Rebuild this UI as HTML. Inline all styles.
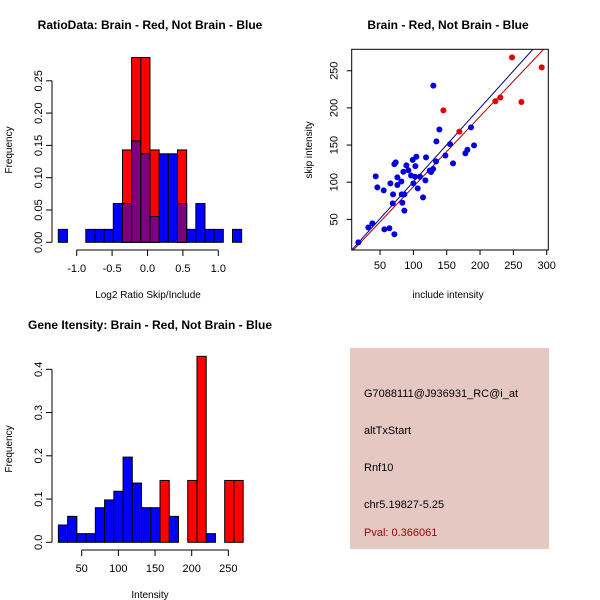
<!DOCTYPE html>
<html><head><meta charset="utf-8"><style>
body{margin:0;background:#fff;}
svg{display:block;font-family:"Liberation Sans",sans-serif;}
</style></head><body>
<svg id="c" width="600" height="600" viewBox="0 0 600 600">
<rect x="350" y="348" width="199" height="201" fill="#e6c8c2"/>
<text x="364" y="397" font-size="11">G7088111@J936931_RC@i_at</text>
<text x="364" y="434" font-size="11">altTxStart</text>
<text x="364" y="471" font-size="11">Rnf10</text>
<text x="364" y="508" font-size="11">chr5.19827-5.25</text>
<text x="364" y="536" font-size="11" fill="#9b0000">Pval: 0.366061</text>
</svg>
<script>
// ---- data ----
const ratioBinStart = -1.26, ratioBinWidth = 0.1295;
const ratioBlue = [0.02,0,0,0.02,0.02,0.02,0.06,0.06,0.157,0.137,0.04,0.137,0.137,0.06,0.02,0.06,0.02,0.02,0,0.02];
const ratioRed  = [0,0,0,0,0,0,0,0.143,0.286,0.286,0.143,0,0,0.143,0,0,0,0,0,0];
const ratioXTicks = [-1.0,-0.5,0.0,0.5,1.0];
const ratioYTicks = [0.00,0.05,0.10,0.15,0.20,0.25];

const intBinStart = 18.2, intBinWidth = 12.6;
const intBlue = [0.04,0.06,0.02,0.02,0.08,0.098,0.118,0.197,0.137,0.08,0.08,0,0.06,0,0,0,0.02,0,0,0];
const intRed  = [0,0,0,0,0,0,0,0,0,0,0,0.143,0,0,0.143,0.43,0,0,0.143,0.143];
const intXTicks = [50,100,150,200,250];
const intYTicks = [0.0,0.1,0.2,0.3,0.4];

const redX = [248,292.5,262,223,230.5,145,169];
const redY = [268,254.5,208,209,214,196.6,168];
const blueX = [17.5,32.5,38.5,43.5,46,55.5,56.5,64,65.5,69.5,69,71.5,71.5,73.5,76,76,82,82.5,83.5,85,86.5,86.5,89.5,92.5,96.5,99,100,102.5,103,104.5,106.5,110,114.5,118,119,124.5,126.5,129.5,130,134,134.5,139,148,155,159.5,178,181,186.5,191];
const blueY = [19,39,44.6,107.8,93,89,36.5,38,98.4,83.6,71.5,30,124.4,126.7,106.5,96.2,101,83.6,72.4,114,61.7,83.6,122.6,116,109,130,98.4,107.4,121.7,134.3,91.7,107.4,79.6,102.5,133.4,115.5,113.7,117.7,230,128,155,171,136,151.3,125.3,138.8,143.7,173.8,149.6];
const blueFit = [1.2, 0.994];
const redFit = [-0.8, 0.947];
const scXTicks = [50,100,150,200,250,300];
const scYTicks = [50,100,150,200,250];

// ---- drawing ----
const svg = document.getElementById('c');
const NS = 'http://www.w3.org/2000/svg';
function mk(tag, attrs, parent){const e=document.createElementNS(NS,tag);for(const k in attrs)e.setAttribute(k,attrs[k]);(parent||svg).appendChild(e);return e;}
function txt(x,y,s,opts,parent){const t=mk('text',Object.assign({x:x,y:y,'font-size':11,'text-anchor':'middle'},opts||{}),parent);t.textContent=s;return t;}

function hist(cfg){
  const g=mk('g',{});
  
  
  const sx=v=>cfg.x0+(v-cfg.xa)*cfg.xs, sy=v=>cfg.y0-v*cfg.ys;
  for(let i=0;i<cfg.red.length;i++){
    const l=sx(cfg.start+i*cfg.w), r=sx(cfg.start+(i+1)*cfg.w);
    const b=cfg.blue[i], rd=cfg.red[i];
    if(rd>0){const e=mk('rect',{x:l,y:sy(rd),width:r-l,height:sy(0)-sy(rd),fill:'#ff0000',stroke:'#000','stroke-width':1},g);
      
      }
    if(b>0){const e=mk('rect',{x:l,y:sy(b),width:r-l,height:sy(0)-sy(b),fill:'#0000ff',stroke:'#000','stroke-width':1},g);
      
      }
    if(b>0&&rd>0){const m=Math.min(b,rd);const e=mk('rect',{x:l,y:sy(m),width:r-l,height:sy(0)-sy(m),fill:'#7f007f',stroke:'#000','stroke-width':1},g);
      
      }
  }
  const ax=mk('g',{},g);
  
  
  const xt=cfg.xticks;
  mk('line',{x1:sx(xt[0]),x2:sx(xt[xt.length-1]),y1:cfg.axY,y2:cfg.axY,stroke:'#000'},ax);
  xt.forEach(v=>{mk('line',{x1:sx(v),x2:sx(v),y1:cfg.axY,y2:cfg.axY+6,stroke:'#000'},ax);txt(sx(v),cfg.axY+22,cfg.fmtx(v),{},ax);});
  const ay=mk('g',{},g);
  
  
  const yt=cfg.yticks;
  mk('line',{x1:cfg.axX,x2:cfg.axX,y1:sy(yt[0]),y2:sy(yt[yt.length-1]),stroke:'#000'},ay);
  yt.forEach(v=>{mk('line',{x1:cfg.axX,x2:cfg.axX-6,y1:sy(v),y2:sy(v),stroke:'#000'},ay);txt(cfg.axX-10,sy(v),cfg.fmty(v),{transform:`rotate(-90 ${cfg.axX-10} ${sy(v)})`},ay);});
}

hist({name:'ratio-histogram',red:ratioRed,blue:ratioBlue,start:ratioBinStart,w:ratioBinWidth,xa:0,x0:147.5,xs:70.8,y0:242.3,ys:646,
  xticks:ratioXTicks,yticks:ratioYTicks,axY:250,axX:52,fmtx:v=>v.toFixed(1),fmty:v=>v.toFixed(2)});
hist({name:'intensity-histogram',red:intRed,blue:intBlue,start:intBinStart,w:intBinWidth,xa:50,x0:81.7,xs:0.7333,y0:542.3,ys:432.5,
  xticks:intXTicks,yticks:intYTicks,axY:550,axX:52,fmtx:v=>String(v),fmty:v=>v.toFixed(1)});

let t;
t=txt(150,29,'RatioData: Brain - Red, Not Brain - Blue',{'font-weight':'bold','font-size':12});
 
t=txt(148,298,'Log2 Ratio Skip/Include',{'font-size':10});
 
t=txt(12,150,'Frequency',{'font-size':10,transform:'rotate(-90 12 150)'});
 
t=txt(150,329,'Gene Itensity: Brain - Red, Not Brain - Blue',{'font-weight':'bold','font-size':12});
 
t=txt(150,598,'Intensity',{'font-size':10});
 
t=txt(12,449,'Frequency',{'font-size':10,transform:'rotate(-90 12 449)'});
 

const sg=mk('g',{});


const L=351.7,R=548.3,T=49.3,B=250;
const px=v=>346.7+v*0.6667, py=v=>256.5-v*0.743;
const invx=p=>(p-346.7)/0.6667;
const cp=mk('clipPath',{id:'clip'},sg);
mk('rect',{x:L,y:T,width:R-L,height:B-T},cp);
function fit(f,color,name){const x1=invx(L),x2=invx(R);const e=mk('line',{x1:px(x1),y1:py(f[0]+f[1]*x1),x2:px(x2),y2:py(f[0]+f[1]*x2),stroke:color,'stroke-width':1,'clip-path':'url(#clip)'},sg);
  
  }
fit(blueFit,'#00008b','blue-fit-line');
fit(redFit,'#b00000','red-fit-line');
blueX.forEach((x,i)=>{const c=mk('circle',{cx:px(x),cy:py(blueY[i]),r:3,fill:'#0000dd'},sg);
  
  });
redX.forEach((x,i)=>{const c=mk('circle',{cx:px(x),cy:py(redY[i]),r:3,fill:'#e00000'},sg);
  
  });
mk('rect',{x:L,y:T,width:R-L,height:B-T,fill:'none',stroke:'#000'},sg);
scXTicks.forEach(v=>{mk('line',{x1:px(v),x2:px(v),y1:B,y2:B+5,stroke:'#000'},sg);txt(px(v),B+19,String(v),{},sg);});
scYTicks.forEach(v=>{mk('line',{x1:L,x2:L-5,y1:py(v),y2:py(v),stroke:'#000'},sg);txt(L-14,py(v),String(v),{transform:`rotate(-90 ${L-14} ${py(v)})`},sg);});
t=txt(448,29,'Brain - Red, Not Brain - Blue',{'font-weight':'bold','font-size':12});
 
t=txt(448,298,'include intensity',{'font-size':10});
 
t=txt(312,150,'skip intensity',{'font-size':10,transform:'rotate(-90 312 150)'});
 
</script>
</body></html>
